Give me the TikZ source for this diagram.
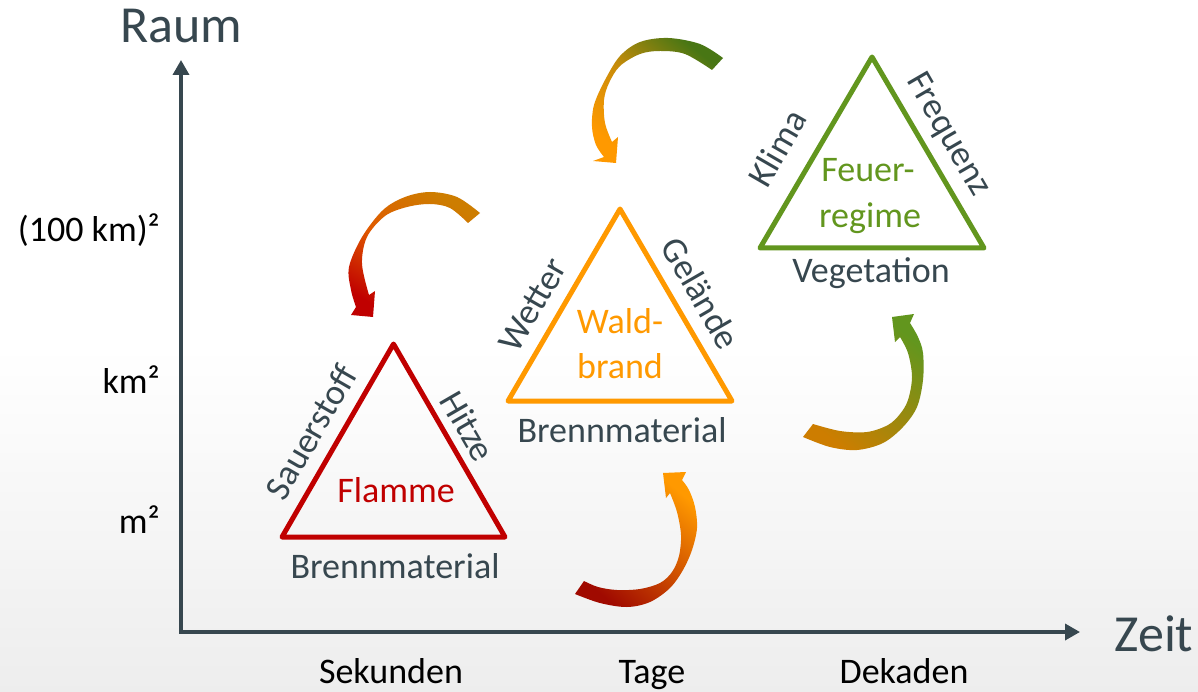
\documentclass[tikz,border=0pt]{standalone}
\usepackage{fontspec}
\setmainfont{Carlito}
\usetikzlibrary{arrows.meta}
\definecolor{slate}{RGB}{55,71,79}
\definecolor{fred}{RGB}{192,0,0}
\definecolor{forange}{RGB}{255,153,0}
\definecolor{fgreen}{RGB}{98,150,30}
\definecolor{ochre}{RGB}{205,125,0}
\definecolor{dgreen}{RGB}{72,118,20}
\definecolor{dred}{RGB}{160,10,0}
\begin{document}
\begin{tikzpicture}[x=1pt,y=-1pt,
  lbl/.style={font=\fontsize{36}{40}\selectfont, text=black, inner sep=0pt},
  side/.style={font=\fontsize{36}{40}\selectfont, text=slate, inner sep=0pt},
  big/.style={font=\fontsize{52}{60}\selectfont, text=slate, inner sep=0pt},
  tri/.style={line width=5pt, line join=round},
  axis/.style={draw=slate, line width=3.5pt, {Triangle[length=15pt,width=16pt]}-{Triangle[length=15pt,width=16pt]}},
  cur/.style={tension=0.55}]
\useasboundingbox (0,0) rectangle (1198,692);
\shade[top color=white, bottom color=black!7, middle color=white] (0,0) rectangle (1198,692);

% axes
\coordinate (ytop) at (181,60);
\coordinate (O) at (181,632);
\coordinate (xend) at (1080,632);
\draw[axis] (ytop) -- (O) -- (xend);
\node[big, anchor=base] (raum) at (181,43) {Raum};
\node[big, anchor=base] (zeit) at (1154,651) {Zeit};

% axis labels
\node[lbl, anchor=base east] (l100) at (160,242) {(100 km)²};
\node[lbl, anchor=base east] (lkm) at (160,393) {km²};
\node[lbl, anchor=base east] (lm) at (160,533) {m²};
\node[lbl, anchor=base] (sek) at (391,683) {Sekunden};
\node[lbl, anchor=base] (tage) at (652,683) {Tage};
\node[lbl, anchor=base] (dek) at (904,683) {Dekaden};

% red triangle
\coordinate (r1) at (282,537);
\coordinate (r2) at (393.5,344);
\coordinate (r3) at (505,537);
\draw[tri, fred] (r1) -- (r2) -- (r3) -- cycle;
\node[side, text=fred, anchor=base] (flamme) at (396,502) {Flamme};
\node[side, rotate=60] (sauer) at (311,432) {Sauerstoff};
\node[side, rotate=-60] (hitze) at (468,426) {Hitze};
\node[side, anchor=base] (bm1) at (395,578) {Brennmaterial};

% orange triangle
\coordinate (o1) at (508,401);
\coordinate (o2) at (620,209);
\coordinate (o3) at (732,401);
\draw[tri, forange] (o1) -- (o2) -- (o3) -- cycle;
\node[side, text=forange, anchor=base] (wald) at (620,333) {Wald-};
\node[side, text=forange, anchor=base] (brand) at (620,378) {brand};
\node[side, rotate=60] (wetter) at (533,305) {Wetter};
\node[side, rotate=-60] (gel) at (701,293) {Gelände};
\node[side, anchor=base] (bm2) at (622,442) {Brennmaterial};

% green triangle
\coordinate (g1) at (760,248);
\coordinate (g2) at (872,57);
\coordinate (g3) at (984,248);
\draw[tri, fgreen] (g1) -- (g2) -- (g3) -- cycle;
\node[side, text=fgreen, anchor=base] (feuer) at (868,182) {Feuer-};
\node[side, text=fgreen, anchor=base] (regime) at (870,228) {regime};
\node[side, rotate=60] (klima) at (777,148) {Klima};
\node[side, rotate=-60] (freq) at (948,135) {Frequenz};
\node[side, anchor=base] (veg) at (871,283) {Vegetation};

% curved arrow 1 (ochre -> red)
\shade[top color=ochre, bottom color=fred, middle color={rgb,255:red,224;green,90;blue,0}, shading angle=-30]
  plot[smooth, cur] coordinates {(480,213) (457,197) (430,192) (405,197) (383,210) (362,237) (349,267) (351,290) (356,307)}
  -- (351,315) -- (373,317) -- (375,291)
  -- plot[smooth, cur] coordinates {(369,295) (362,264) (367,237) (385,216) (407,207) (430,204) (450,208) (468,223)}
  -- cycle;

% curved arrow 2 (green -> orange)
\shade[top color=dgreen, bottom color=forange, middle color={rgb,255:red,200;green,140;blue,10}, shading angle=-40]
  plot[smooth, cur] coordinates {(723,58) (700,44) (668,38) (640,42) (620,56) (605,80) (594,105) (592,127) (596,145) (604,157)}
  -- (593,161) -- (616,163) -- (618,137)
  -- plot[smooth, cur] coordinates {(612,142) (605,123) (604,100) (609,83) (620,66) (640,54) (660,51) (685,54) (712,70)}
  -- cycle;

% curved arrow 3 (dark red -> orange)
\shade[top color=forange, bottom color=dred, shading angle=-40]
  plot[smooth, cur] coordinates {(575,594) (600,603) (627,607) (650,602) (670,588) (683,570) (692,550) (697,528) (695,507) (689,490) (682,480)}
  -- (686,472) -- (663,473) -- (666,498)
  -- plot[smooth, cur] coordinates {(670,493) (677,512) (681,535) (679,556) (672,572) (660,583) (640,589) (617,590) (598,587) (584,581)}
  -- cycle;

% curved arrow 4 (ochre -> green)
\shade[top color=fgreen, bottom color=ochre, shading angle=-40]
  plot[smooth, cur] coordinates {(803,437) (830,447) (857,450) (883,443) (903,427) (917,407) (923,380) (923,353) (918,337) (910,323)}
  -- (914,314) -- (892,317) -- (895,342)
  -- plot[smooth, cur] coordinates {(900,337) (908,353) (912,377) (908,400) (900,414) (888,425) (867,432) (840,431) (813,424)}
  -- cycle;
\end{tikzpicture}
\end{document}
